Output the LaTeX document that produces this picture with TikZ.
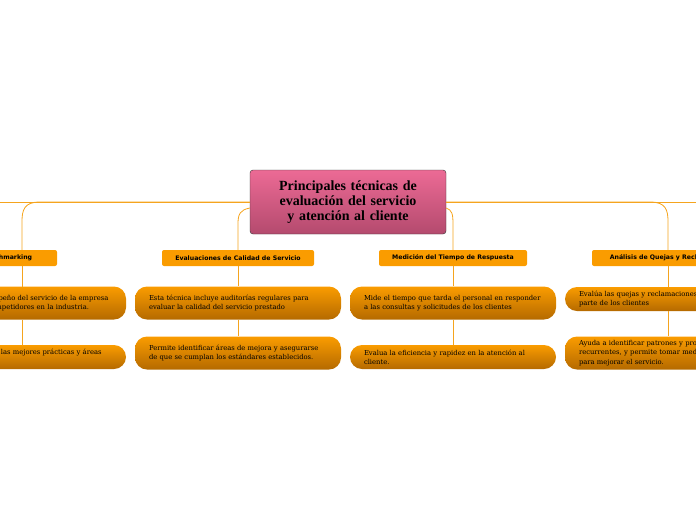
\documentclass[tikz,border=0pt]{standalone}
\usepackage{fontspec}
\newfontfamily\hdr{DejaVu Sans}
\newfontfamily\ser{DejaVu Serif}
\newfontfamily\ttl{Liberation Serif}
\definecolor{ln}{HTML}{F5A41E}
\definecolor{og}{HTML}{FA9C00}
\definecolor{ogd}{HTML}{B56A00}
\definecolor{pk}{HTML}{EC6A95}
\definecolor{pkd}{HTML}{B44A6E}
\tikzset{
 cen/.style={draw=black!80, rounded corners=3pt, top color=pk, bottom color=pkd, minimum width=196pt, minimum height=64pt, align=center, font=\ttl\bfseries\fontsize{14}{15}\selectfont, text width=180pt},
 lv/.style={fill=og, rounded corners=2pt, minimum height=16pt, font=\hdr\bfseries\fontsize{6.2}{7}\selectfont},
 ch/.style={top color=og, bottom color=ogd, rounded corners=12pt, minimum width=206pt, text width=178pt, align=left, font=\ser\fontsize{6.8}{9.2}\selectfont, execute at begin node={\hyphenpenalty=10000\relax}, inner sep=3pt},
 cn/.style={draw=ln, line width=0.8pt}
}
\begin{document}
\begin{tikzpicture}[x=1pt,y=-1pt]
\useasboundingbox (0,0) rectangle (696,520);
\clip (0,0) rectangle (696,520);
\node[cen] (c) at (348,202) {Principales técnicas de evaluación del servicio y atención al cliente};
\node[lv, minimum width=100pt] (b) at (7,258) {Benchmarking};
\node[lv, minimum width=152pt] (e) at (238,258) {Evaluaciones de Calidad de Servicio};
\node[lv, minimum width=148pt] (m) at (453,258) {Medición del Tiempo de Respuesta};
\node[lv, minimum width=160pt] (a) at (672,258) {Análisis de Quejas y Reclamaciones};
\node[ch, minimum height=33pt] (b1) at (23,303) {Compara el desempeño del servicio de la empresa con el de otros competidores en la industria.};
\node[ch, minimum height=24pt] (b2) at (23,357) {Permite identificar las mejores prácticas y áreas de mejora.};
\node[ch, minimum height=33pt] (e1) at (238,303) {Esta técnica incluye auditorías regulares para evaluar la calidad del servicio prestado};
\node[ch, minimum height=33pt] (e2) at (238,353) {Permite identificar áreas de mejora y asegurarse de que se cumplan los estándares establecidos.};
\node[ch, minimum height=33pt] (m1) at (453,303) {Mide el tiempo que tarda el personal en responder a las consultas y solicitudes de los clientes};
\node[ch, minimum height=24pt] (m2) at (453,357) {Evalua la eficiencia y rapidez en la atención al cliente.};
\node[ch, minimum height=24pt] (a1) at (668,299) {Evalúa las quejas y reclamaciones presentadas por parte de los clientes};
\node[ch, minimum height=33pt] (a2) at (668,353) {Ayuda a identificar patrones y problemas recurrentes, y permite tomar medidas correctivas para mejorar el servicio.};
\draw[cn] (c.west) -- (-10,202);
\draw[cn] (c.east) -- (706,202);
\draw[cn] (c.west) -- (40,202) .. controls (24,202) and (22,210) .. (22,222) -- (22,250);
\draw[cn] (c.west) ++(0,6) .. controls (240,210) and (238,214) .. (238,224) -- (e.north);
\draw[cn] (c.east) ++(0,6) .. controls (452,210) and (453,214) .. (453,224) -- (m.north);
\draw[cn] (c.east) -- (650,202) .. controls (666,202) and (668,210) .. (668,222) -- (668,250);
\draw[cn] (22,266) -- (22,287); \draw[cn] (22,320) -- (22,345);
\draw[cn] (e.south) -- (e1.north); \draw[cn] (e1.south) -- (e2.north);
\draw[cn] (m.south) -- (m1.north); \draw[cn] (m1.south) -- (m2.north);
\draw[cn] (668,266) -- (a1.north); \draw[cn] (a1.south) -- (a2.north);
\end{tikzpicture}
\end{document}
